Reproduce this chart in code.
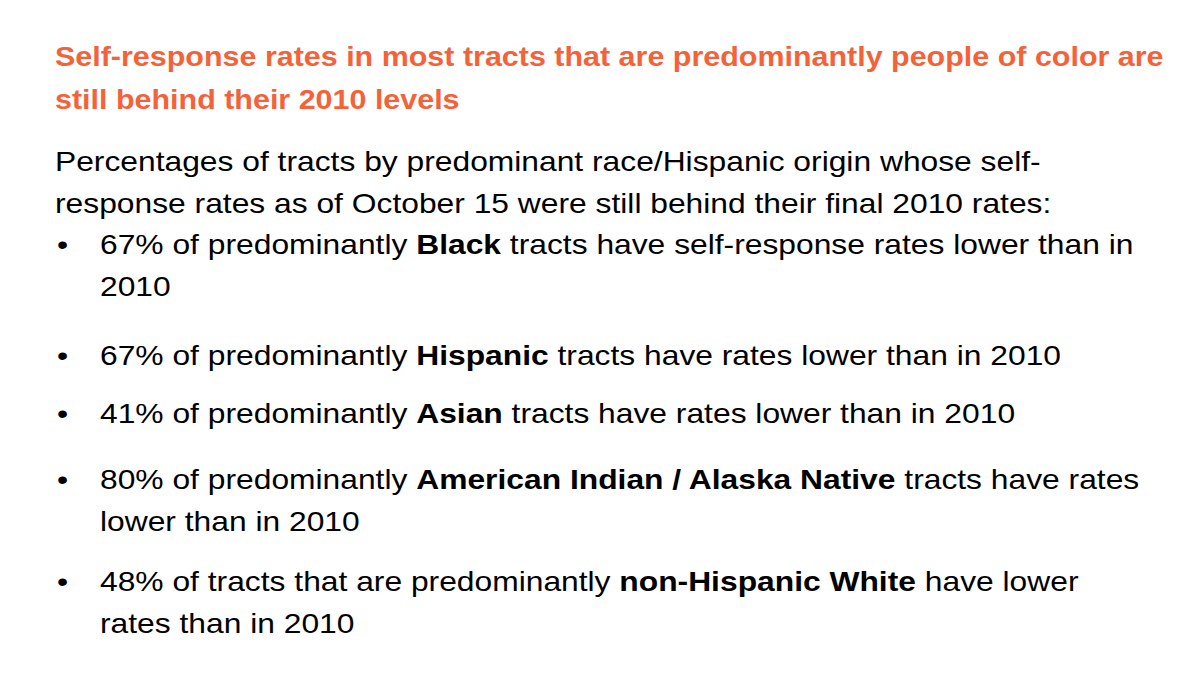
<!DOCTYPE html>
<html><head><meta charset="utf-8">
<script src="https://cdn.jsdelivr.net/npm/chart.js@4/dist/chart.umd.min.js"></script>
<style>
body{margin:0;width:1200px;height:675px;background:#fff;font-family:"Liberation Sans","DejaVu Sans",sans-serif;color:#000;overflow:hidden;position:relative}
.l{position:absolute;white-space:nowrap;font-size:28px;line-height:1;transform:scaleX(1.135);transform-origin:0 0}
.t{color:#F4623A;font-weight:bold;font-size:27px;transform:scaleX(1.128)}
</style></head><body>
<div id="root"></div>
<script>
const groups = ["Black","Hispanic","Asian","American Indian / Alaska Native","non-Hispanic White"];
const percentBehind = [67,67,41,80,48];
const titleLines = ["Self-response rates in most tracts that are predominantly people of color are","still behind their 2010 levels"];
const introLines = ["Percentages of tracts by predominant race/Hispanic origin whose self-","response rates as of October 15 were still behind their final 2010 rates:"];
const root=document.getElementById('root');
function add(html,x,y,cls){const d=document.createElement('div');d.className='l '+(cls||'');d.style.left=x+'px';d.style.top=y+'px';d.innerHTML=html;root.appendChild(d);}
titleLines.forEach((s,i)=>add(s,55,44+i*43,'t'));
introLines.forEach((s,i)=>add(s,55,148+i*42));
const b=[
 [`${percentBehind[0]}% of predominantly <b>${groups[0]}</b> tracts have self-response rates lower than in`,'2010'],
 [`${percentBehind[1]}% of predominantly <b>${groups[1]}</b> tracts have rates lower than in 2010`],
 [`${percentBehind[2]}% of predominantly <b>${groups[2]}</b> tracts have rates lower than in 2010`],
 [`${percentBehind[3]}% of predominantly <b>${groups[3]}</b> tracts have rates`,'lower than in 2010'],
 [`${percentBehind[4]}% of tracts that are predominantly <b>${groups[4]}</b> have lower`,'rates than in 2010']];
const ys=[231,342,400,466,568];
b.forEach((ls,i)=>{add('•',57,ys[i]);ls.forEach((s,j)=>add(s,100,ys[i]+j*42));});
</script></body></html>
